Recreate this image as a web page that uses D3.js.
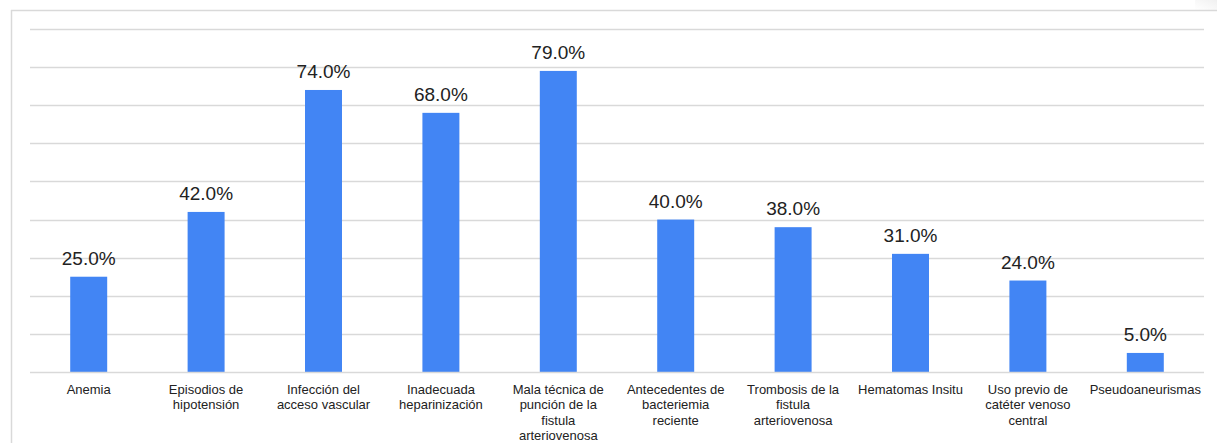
<!DOCTYPE html>
<html>
<head>
<meta charset="utf-8">
<script src="https://cdn.jsdelivr.net/npm/d3@7"></script>
<style>
  html, body { margin: 0; padding: 0; background: #fff; }
  svg { display: block; }
</style>
</head>
<body>
<svg id="chart" width="1217" height="443"></svg>
<script>
// Factores asociados (porcentaje de pacientes)
const categories = [
  "Anemia",
  "Episodios de\nhipotensión",
  "Infección del\nacceso vascular",
  "Inadecuada\nheparinización",
  "Mala técnica de\npunción de la\nfistula\narteriovenosa",
  "Antecedentes de\nbacteriemia\nreciente",
  "Trombosis de la\nfistula\narteriovenosa",
  "Hematomas Insitu",
  "Uso previo de\ncatéter venoso\ncentral",
  "Pseudoaneurismas"
];
const values = [25, 42, 74, 68, 79, 40, 38, 31, 24, 5];
const gridTicks = [10, 20, 30, 40, 50, 60, 70, 80, 90];

const svg = d3.select("#chart");
const margin = { left: 30, right: 13, top: 29, bottom: 71 };
const W = 1217, H = 443;

// soft shading in the top-right corner of the frame
const defs = svg.append("defs");
const fade = defs.append("linearGradient").attr("id", "cornerFade")
  .attr("x1", "0").attr("y1", "1").attr("x2", "1").attr("y2", "0");
fade.append("stop").attr("offset", "0%").attr("stop-color", "#f2f2f2").attr("stop-opacity", 0);
fade.append("stop").attr("offset", "100%").attr("stop-color", "#f0f0f0").attr("stop-opacity", 1);
svg.append("rect")
  .attr("x", 1195).attr("y", 0).attr("width", 22).attr("height", 10)
  .attr("fill", "url(#cornerFade)");

// outer frame: left and top edges only
svg.append("line")
  .attr("x1", 11.5).attr("x2", 11.5).attr("y1", 10).attr("y2", H)
  .attr("stroke", "#d9d9d9").attr("stroke-width", 1.5);
svg.append("line")
  .attr("x1", 11).attr("x2", W).attr("y1", 10.5).attr("y2", 10.5)
  .attr("stroke", "#d9d9d9").attr("stroke-width", 1.5);

const x = d3.scaleBand()
  .domain(categories)
  .range([margin.left, W - margin.right])
  .paddingInner(0.685)
  .paddingOuter(0.3425);

const y = d3.scaleLinear()
  .domain([0, 90])
  .range([372, 29]);

// horizontal gridlines
svg.append("g")
  .selectAll("line")
  .data(gridTicks)
  .join("line")
  .attr("x1", margin.left).attr("x2", W - margin.right)
  .attr("y1", d => Math.round(y(d)) + 0.5)
  .attr("y2", d => Math.round(y(d)) + 0.5)
  .attr("stroke", "#d9d9d9").attr("stroke-width", 1.5);

// bars
svg.append("g")
  .selectAll("rect")
  .data(values)
  .join("rect")
  .attr("x", (d, i) => x(categories[i]))
  .attr("width", x.bandwidth())
  .attr("y", d => y(d))
  .attr("height", d => y(0) - y(d))
  .attr("fill", "#4285f4");

// baseline
svg.append("line")
  .attr("x1", margin.left).attr("x2", W - margin.right)
  .attr("y1", y(0) + 0.5).attr("y2", y(0) + 0.5)
  .attr("stroke", "#d9d9d9").attr("stroke-width", 1.5);

// value labels
svg.append("g")
  .selectAll("text")
  .data(values)
  .join("text")
  .attr("x", (d, i) => x(categories[i]) + x.bandwidth() / 2)
  .attr("y", d => y(d) - 12)
  .attr("text-anchor", "middle")
  .attr("font-family", "Liberation Sans, Arial, sans-serif")
  .attr("font-size", 19)
  .attr("fill", "#222")
  .text(d => d3.format(".1f")(d) + "%");

// category labels
const xAxis = svg.append("g");
categories.forEach(c => {
  const t = xAxis.append("text")
    .attr("x", x(c) + x.bandwidth() / 2)
    .attr("y", 394)
    .attr("text-anchor", "middle")
    .attr("font-family", "Liberation Sans, Arial, sans-serif")
    .attr("font-size", 13)
    .attr("fill", "#222");
  c.split("\n").forEach((line, j) => {
    t.append("tspan")
      .attr("x", x(c) + x.bandwidth() / 2)
      .attr("dy", j === 0 ? 0 : 15.3)
      .text(line);
  });
});
</script>
</body>
</html>
